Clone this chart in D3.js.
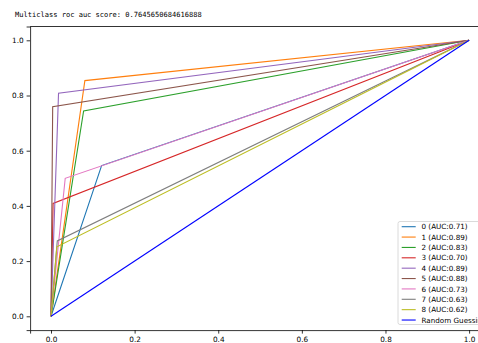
<!DOCTYPE html>
<html><head><meta charset="utf-8">
<script src="https://cdn.jsdelivr.net/npm/d3@7"></script>
<style>body{margin:0;background:#fff}svg{display:block}</style>
</head><body>
<script>
const titleText = "Multiclass roc auc score: 0.7645650684616888";
const classes = ["0","1","2","3","4","5","6","7","8"];
const aucs = ["0.71","0.89","0.83","0.70","0.89","0.88","0.73","0.63","0.62"];
const fprs = [[0,0.121,1],[0,0.081,1],[0,0.078,1],[0,0.005,1],[0,0.018,1],[0,0.004,1],[0,0.034,1],[0,0.015,1],[0,0.014,1]];
const tprs = [[0,0.546,1],[0,0.854,1],[0,0.744,1],[0,0.409,1],[0,0.808,1],[0,0.759,1],[0,0.5,1],[0,0.273,1],[0,0.252,1]];
const randomFpr = [0,1];
const randomTpr = [0,1];
const colors = ["#1f77b4","#ff7f0e","#2ca02c","#d62728","#9467bd","#8c564b","#e377c2","#7f7f7f","#bcbd22"];
const ticks = [0,0.2,0.4,0.6,0.8,1.0];

const W=478,H=343;
const svg=d3.select("body").append("svg").attr("width",W).attr("height",H);
const x=d3.scaleLinear().domain([-0.05,1.05]).range([30.1,490]);
const y=d3.scaleLinear().domain([-0.05,1.05]).range([330.1,26.5]);

svg.append("text").attr("x",15).attr("y",16.5).attr("font-family","DejaVu Sans Mono").attr("font-size",7.05).attr("fill","#000").text(titleText);

const line=d3.line().x(d=>x(d[0])).y(d=>y(d[1]));
const g=svg.append("g");
classes.forEach((c,i)=>{
  const pts=fprs[i].map((f,j)=>[f,tprs[i][j]]);
  g.append("path").attr("d",line(pts)).attr("fill","none").attr("stroke",colors[i]).attr("stroke-width",1.1);
});
g.append("path").attr("d",line(randomFpr.map((f,j)=>[f,randomTpr[j]]))).attr("fill","none").attr("stroke","#0000ff").attr("stroke-width",1.1);

// axes
const xa=svg.append("g").attr("transform",`translate(0,${y.range()[0]})`).call(d3.axisBottom(x).tickValues(ticks).tickFormat(d3.format(".1f")).tickSizeOuter(0).tickSize(3.5).tickPadding(3));
const ya=svg.append("g").attr("transform",`translate(${x.range()[0]},0)`).call(d3.axisLeft(y).tickValues(ticks).tickFormat(d3.format(".1f")).tickSizeOuter(0).tickSize(3.5).tickPadding(3));
[xa,ya].forEach(a=>{a.selectAll("text").attr("font-family","DejaVu Sans").attr("font-size",7.3).attr("fill","#000");a.selectAll("line").attr("stroke","#000").attr("stroke-width",0.8);a.select(".domain").attr("stroke","#000").attr("stroke-width",0.8);});
// top & right spines
svg.append("line").attr("x1",x.range()[0]).attr("x2",x.range()[1]).attr("y1",y.range()[1]).attr("y2",y.range()[1]).attr("stroke","#000").attr("stroke-width",0.8);
svg.append("line").attr("x1",x.range()[1]).attr("x2",x.range()[1]).attr("y1",y.range()[1]).attr("y2",y.range()[0]).attr("stroke","#000").attr("stroke-width",0.8);

// legend
const labels=classes.map((c,i)=>`${c} (AUC:${aucs[i]})`).concat(["Random Guessing"]);
const lcolors=colors.concat(["#0000ff"]);
const lg=svg.append("g").attr("transform","translate(398,221.5)");
lg.append("rect").attr("width",100).attr("height",103).attr("rx",2).attr("fill","#fff").attr("fill-opacity",0.8).attr("stroke","#d0d0d0").attr("stroke-width",0.8);
labels.forEach((l,i)=>{
  const yy=5.2+i*10.37;
  lg.append("line").attr("x1",3.7).attr("x2",17.7).attr("y1",yy).attr("y2",yy).attr("stroke",lcolors[i]).attr("stroke-width",1.1);
  lg.append("text").attr("x",23.5).attr("y",yy+2.6).attr("font-family","DejaVu Sans").attr("font-size",7.2).attr("fill","#000").text(l);
});
</script>
</body></html>
